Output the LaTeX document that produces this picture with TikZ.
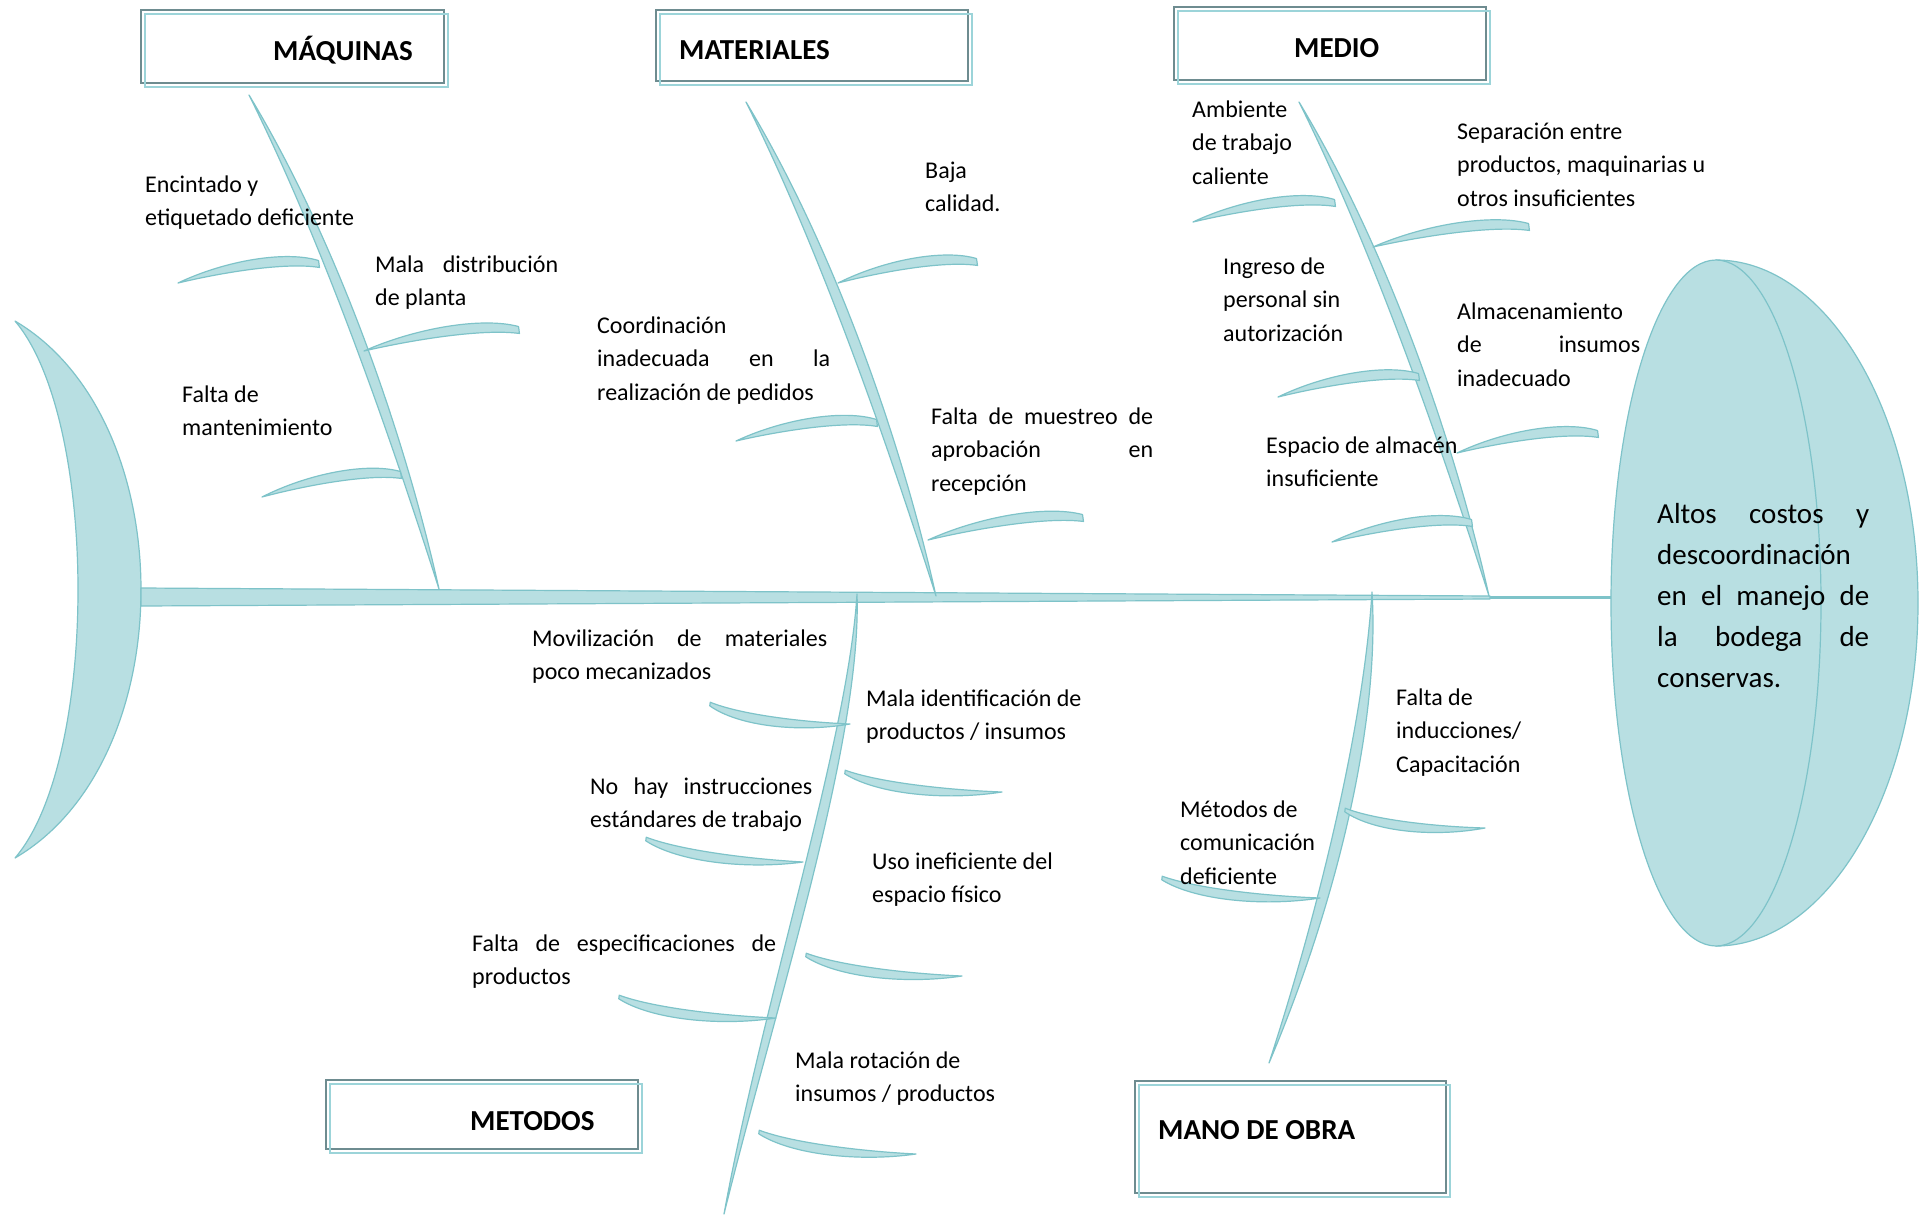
\documentclass[tikz,border=0pt]{standalone}
\usepackage{fontspec}
\setmainfont{Carlito}
\usetikzlibrary{calc}
\definecolor{fillc}{HTML}{B8DFE2}
\definecolor{linec}{HTML}{7EC3C9}
\definecolor{boxdark}{HTML}{6E8C90}
\definecolor{boxlight}{HTML}{9CD4D9}
\tikzset{
  bonesty/.style={fill=fillc, draw=linec, line width=1.2pt, line join=round},
  lbl/.style={inner sep=0pt, anchor=base west, font=\fontsize{24}{33.5}\selectfont},
  hdr/.style={inner sep=0pt, anchor=base west, font=\bfseries\fontsize{29}{34}\selectfont},
  headtxt/.style={inner sep=0pt, anchor=base west, font=\fontsize{29}{41}\selectfont},
}
% leaf: #1 half width of blunt end, #2 pointed tip, #3 blunt end
\newcommand\leaf[3]{\filldraw[bonesty] (#2) .. controls ($(#2)!0.35!(#3)!16pt!90:(#3)$) and ($(#2)!0.78!(#3)!18pt!90:(#3)$) .. ($(#3)!#1pt!-90:(#2)$) -- ($(#3)!#1pt!90:(#2)$) .. controls ($(#2)!0.78!(#3)!6pt!90:(#3)$) and ($(#2)!0.35!(#3)!5pt!90:(#3)$) .. (#2) -- cycle;}
\newcommand\boneU[2]{\filldraw[bonesty, shift={(#1,#2)}] (0,0) .. controls (76,152.5) and (143,346.5) .. (190,494) .. controls (156,341.5) and (89,147.5) .. (0,0) -- cycle;}
\newcommand\catbox[4]{%
  \filldraw[fill=white, draw=boxdark, line width=1.4pt] (#1,#2) rectangle (#3,#4);
  \draw[boxlight, line width=1.8pt] ({#1+4},{#2+4}) rectangle ({#3+4},{#4+4});}
\begin{document}
\begin{tikzpicture}[x=1pt, y=-1pt]
\useasboundingbox (0,0) rectangle (1923,1216);
\fill[white] (0,0) rectangle (1923,1216);

% header boxes
\catbox{141}{10}{444}{83}
\catbox{656}{10}{968}{81}
\catbox{1174}{7}{1486}{80}
\catbox{326}{1080}{638}{1149}
\catbox{1135}{1081}{1446}{1193}
\node[hdr] (hmaq) at (273,60) {MÁQUINAS};
\node[hdr] (hmat) at (679,59.5) {MATERIALES};
\node[hdr] (hmed) at (1294,57.5) {MEDIO};
\node[hdr] (hmet) at (470,1130.5) {METODOS};
\node[hdr] (hmano) at (1158,1139) {MANO DE OBRA};

% tail
\filldraw[bonesty] (15,321) .. controls (183,420) and (183,760) .. (15,858) .. controls (99,760) and (99,420) .. (15,321) -- cycle;

% head
\filldraw[bonesty] (1716,260) arc[start angle=-90, end angle=90, x radius=202, y radius=343] -- cycle;
\filldraw[bonesty] (1716,603) ellipse[x radius=105, y radius=343];

% spine
\draw[linec, line width=2.5pt] (1488,597.5) -- (1611,597.5);
\filldraw[bonesty] (141,588) -- (1490,596) -- (1490,599) -- (141,606) -- cycle;

% main bones
\boneU{249}{95}
\boneU{746}{102}
\boneU{1299}{102}
\filldraw[bonesty] (857,594) .. controls (862,740) and (777,1000) .. (724,1214) .. controls (763,1000) and (848,740) .. (857,594) -- cycle;
\filldraw[bonesty] (1372,592) .. controls (1380,720) and (1338,900) .. (1269,1063) .. controls (1322,900) and (1364,720) .. (1372,592) -- cycle;

% small bones, upper (tip left, blunt right)
\leaf{3.5}{178,283}{319,264}
\leaf{3.5}{364,351}{519,330}
\leaf{3.5}{262,497}{401,475}
\leaf{3.5}{838,283}{977,262}
\leaf{3.5}{736,441}{877,423}
\leaf{3.5}{928,540}{1083,518}
\leaf{3.5}{1193,222}{1335,203}
\leaf{3.5}{1373,247}{1529,227}
\leaf{3.5}{1278,397}{1419,377}
\leaf{3.5}{1457,453}{1598,434}
\leaf{3.5}{1332,542}{1472,523}
% small bones, lower (blunt left, tip right)
\leaf{1.8}{850,724}{710,704}
\leaf{1.8}{1002,792}{845,772}
\leaf{1.8}{803,862}{646,839}
\leaf{1.8}{962,976}{806,955}
\leaf{1.8}{776,1018}{619,997}
\leaf{1.8}{916,1154}{759,1132}
\leaf{1.8}{1485,828}{1345,810}
\leaf{1.8}{1320,898}{1162,878}

% labels
\node[lbl] (l1) at (145,192) {\parbox[t]{230pt}{\raggedright Encintado y\\etiquetado deficiente}};
\node[lbl] (l2) at (375,272) {\parbox[t]{183pt}{Mala distribución\linebreak de planta}};
\node[lbl] (l3) at (182,402) {\parbox[t]{160pt}{\raggedright Falta de\\mantenimiento}};
\node[lbl] (l4) at (925,178) {\parbox[t]{100pt}{\raggedright Baja\\calidad.}};
\node[lbl] (l5) at (597,333) {\parbox[t]{233pt}{Coordinación\linebreak inadecuada en la\linebreak realización de pedidos}};
\node[lbl] (l6) at (931,424) {\parbox[t]{222pt}{Falta de muestreo de\linebreak aprobación en\linebreak recepción}};
\node[lbl] (l7) at (1192,117) {\parbox[t]{110pt}{\raggedright Ambiente\\de trabajo\\caliente}};
\node[lbl] (l8) at (1457,139) {\parbox[t]{260pt}{\raggedright Separación entre\\productos, maquinarias u\\otros insuficientes}};
\node[lbl] (l9) at (1223,274) {\parbox[t]{130pt}{\raggedright Ingreso de\\personal sin\\autorización}};
\node[lbl] (l10) at (1457,319) {\parbox[t]{183pt}{Almacenamiento\linebreak de insumos\linebreak inadecuado}};
\node[lbl] (l11) at (1266,453) {\parbox[t]{200pt}{\raggedright Espacio de almacén\\insuficiente}};
\node[lbl] (l12) at (532,646) {\parbox[t]{295pt}{Movilización de materiales\linebreak poco mecanizados}};
\node[lbl] (l13) at (866,706) {\parbox[t]{230pt}{\raggedright Mala identificación de\\productos / insumos}};
\node[lbl] (l14) at (590,794) {\parbox[t]{222pt}{No hay instrucciones\linebreak estándares de trabajo}};
\node[lbl] (l15) at (872,869) {\parbox[t]{200pt}{\raggedright Uso ineficiente del\\espacio físico}};
\node[lbl] (l16) at (472,951) {\parbox[t]{304pt}{Falta de especificaciones de\linebreak productos}};
\node[lbl] (l17) at (795,1068) {\parbox[t]{210pt}{\raggedright Mala rotación de\\insumos / productos}};
\node[lbl] (l18) at (1396,705) {\parbox[t]{140pt}{\raggedright Falta de\\inducciones/\\Capacitación}};
\node[lbl] (l19) at (1180,817) {\parbox[t]{140pt}{\raggedright Métodos de\\comunicación\\deficiente}};

% head text
\node[headtxt] (effect) at (1657,523) {\parbox[t]{212pt}{Altos costos y\linebreak descoordinación\linebreak en el manejo de\linebreak la bodega de\linebreak conservas.}};
\end{tikzpicture}
\end{document}
